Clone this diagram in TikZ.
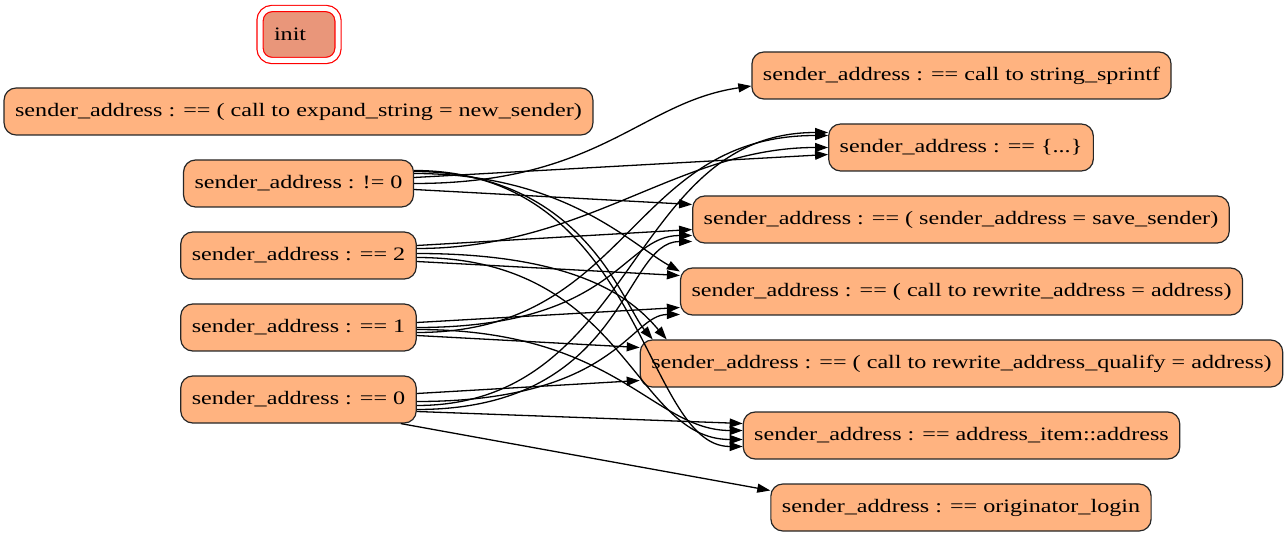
\documentclass[tikz,border=0pt]{standalone}
\usepackage{fontspec}
\setmainfont{Liberation Serif}[FakeStretch=1.27]
\usetikzlibrary{arrows.meta, positioning}
\definecolor{statefill}{RGB}{255,179,128}
\definecolor{initfill}{RGB}{233,150,122}
\tikzset{
  state/.style={draw=black!85, line width=1.2pt, fill=statefill, rounded corners=12pt,
    minimum height=47pt, inner xsep=11pt, font=\fontsize{19}{22}\selectfont},
  initstate/.style={state, fill=initfill, draw=red, double=white, double distance=5pt,
    minimum width=78pt, minimum height=52pt, text width=50pt, align=left},
  edge/.style={-{Triangle[length=13pt,width=9pt]}, line width=1.3pt},
}
\begin{document}
\begin{tikzpicture}[x=1pt, y=-1pt]
\useasboundingbox (0,0) rectangle (1288,537);
\node[initstate] (init) at (299,34.5) {init};
\node[state] (expand) at (298.5,111.5) {sender\_address : == ( call to expand\_string = new\_sender)};
\node[state] (ne0) at (298.5,183.5) {sender\_address : != 0};
\node[state] (eq2) at (298.5,255.5) {sender\_address : == 2};
\node[state] (eq1) at (298.5,327.5) {sender\_address : == 1};
\node[state] (eq0) at (298.5,399.5) {sender\_address : == 0};
\node[state] (sprintf) at (961.5,75.5) {sender\_address : == call to string\_sprintf};
\node[state] (braces) at (961,147.5) {sender\_address : == \{...\}};
\node[state] (save) at (961,219.5) {sender\_address : == ( sender\_address = save\_sender)};
\node[state] (rewrite) at (961.5,291.5) {sender\_address : == ( call to rewrite\_address = address)};
\node[state] (qualify) at (961.5,363.5) {sender\_address : == ( call to rewrite\_address\_qualify = address)};
\node[state] (item) at (961.5,435.5) {sender\_address : == address\_item::address};
\node[state] (login) at (961,507.5) {sender\_address : == originator\_login};

\draw[edge] (ne0.east) .. controls +(186,0) and +(-111,16) .. ([yshift=-10.5pt]sprintf.west);
\draw[edge] ([yshift=6pt]ne0.east) -- ([yshift=-7pt]braces.west);
\draw[edge] ([yshift=-6pt]ne0.east) -- ([yshift=15pt]save.west);
\draw[edge] ([yshift=10pt]ne0.east) .. controls +(150,0) and +(-50,-28) .. ([yshift=20pt]rewrite.west);
\draw[edge] ([yshift=12pt]ne0.east) .. controls +(170,0) and +(-30,-35) .. ([xshift=13pt]qualify.north west);
\draw[edge] ([yshift=13pt]ne0.east) .. controls +(230,0) and +(-100,0) .. ([yshift=-11pt]item.west);

\draw[edge] ([yshift=7pt]eq2.east) .. controls +(170,0) and +(-150,0) .. ([yshift=0pt]braces.west);
\draw[edge] ([yshift=10pt]eq2.east) -- ([yshift=-10pt]save.west);
\draw[edge] ([yshift=-6pt]eq2.east) -- ([yshift=16pt]rewrite.west);
\draw[edge] ([yshift=2pt]eq2.east) .. controls +(170,0) and +(-30,-35) .. ([xshift=27pt]qualify.north west);
\draw[edge] ([yshift=-2pt]eq2.east) .. controls +(210,0) and +(-110,0) .. ([yshift=-4pt]item.west);

\draw[edge] ([yshift=-5pt]eq1.east) .. controls +(215,0) and +(-200,0) .. ([yshift=12pt]braces.west);
\draw[edge] (eq1.east) .. controls +(200,0) and +(-70,0) .. ([yshift=-16pt]save.west);
\draw[edge] ([yshift=5pt]eq1.east) -- ([yshift=-16pt]rewrite.west);
\draw[edge] ([yshift=-8pt]eq1.east) -- ([yshift=16pt]qualify.west);
\draw[edge] ([yshift=-2pt]eq1.east) .. controls +(200,0) and +(-90,0) .. ([yshift=5pt]item.west);

\draw[edge] ([yshift=-6pt]eq0.east) .. controls +(220,0) and +(-200,0) .. ([yshift=15pt]braces.west);
\draw[edge] ([yshift=-10pt]eq0.east) .. controls +(210,0) and +(-70,0) .. ([yshift=-22pt]save.west);
\draw[edge] ([yshift=-2pt]eq0.east) .. controls +(200,0) and +(-50,0) .. ([yshift=-23pt]rewrite.west);
\draw[edge] ([yshift=6pt]eq0.east) -- ([yshift=-17pt]qualify.west);
\draw[edge] ([yshift=-12pt]eq0.east) -- ([yshift=12pt]item.west);
\draw[edge] ([xshift=-16pt]eq0.south east) -- ([yshift=17pt]login.west);
\end{tikzpicture}
\end{document}
